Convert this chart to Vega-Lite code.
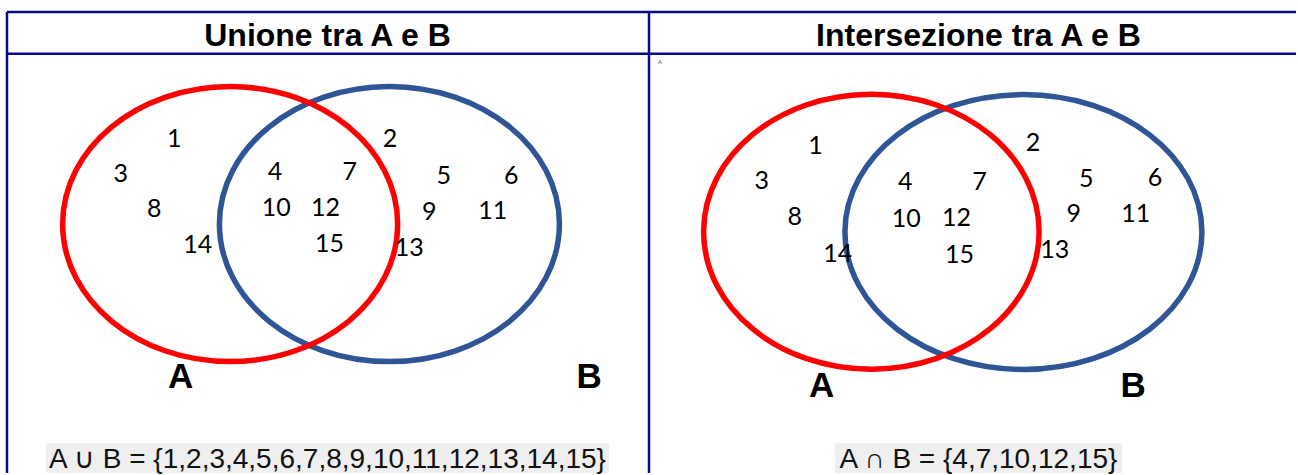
{
  "$schema": "https://vega.github.io/schema/vega-lite/v6.json",
  "width": 1298,
  "height": 475,
  "autosize": {"type": "fit", "contains": "padding"},
  "padding": 0,
  "background": "white",
  "config": {"view": {"stroke": null}},
  "datasets": {
    "lines": [
      {"x": 7, "y": 12, "x2": 1298, "y2": 12},
      {"x": 7, "y": 54, "x2": 1298, "y2": 54},
      {"x": 7, "y": 12, "x2": 7, "y2": 475},
      {"x": 650, "y": 12, "x2": 650, "y2": 475}
    ],
    "sets": [
      {"panel": "Unione", "set": "A", "x": 230.5, "y": 225},
      {"panel": "Unione", "set": "B", "x": 390, "y": 225},
      {"panel": "Intersezione", "set": "A", "x": 872.7, "y": 232.7},
      {"panel": "Intersezione", "set": "B", "x": 1025, "y": 233}
    ],
    "numbers": [
      {"panel": "Unione", "n": "1", "x": 174.6, "y": 136.7},
      {"panel": "Unione", "n": "3", "x": 121, "y": 171.7},
      {"panel": "Unione", "n": "8", "x": 154.5, "y": 206.7},
      {"panel": "Unione", "n": "14", "x": 198, "y": 242.7},
      {"panel": "Unione", "n": "4", "x": 275.3, "y": 169.3},
      {"panel": "Unione", "n": "7", "x": 350.4, "y": 169.3},
      {"panel": "Unione", "n": "10", "x": 276.8, "y": 206},
      {"panel": "Unione", "n": "12", "x": 326, "y": 206},
      {"panel": "Unione", "n": "15", "x": 330, "y": 241.7},
      {"panel": "Unione", "n": "2", "x": 390.6, "y": 137},
      {"panel": "Unione", "n": "5", "x": 444.5, "y": 174},
      {"panel": "Unione", "n": "6", "x": 512, "y": 174},
      {"panel": "Unione", "n": "9", "x": 430, "y": 210},
      {"panel": "Unione", "n": "11", "x": 493.5, "y": 209.3},
      {"panel": "Unione", "n": "13", "x": 410, "y": 246},
      {"panel": "Intersezione", "n": "1", "x": 816.7, "y": 143.3},
      {"panel": "Intersezione", "n": "2", "x": 1034.7, "y": 141},
      {"panel": "Intersezione", "n": "3", "x": 763, "y": 179},
      {"panel": "Intersezione", "n": "5", "x": 1088, "y": 176.7},
      {"panel": "Intersezione", "n": "6", "x": 1156.8, "y": 176},
      {"panel": "Intersezione", "n": "4", "x": 906.6, "y": 180},
      {"panel": "Intersezione", "n": "7", "x": 981, "y": 180},
      {"panel": "Intersezione", "n": "8", "x": 796, "y": 215},
      {"panel": "Intersezione", "n": "9", "x": 1075.5, "y": 211.7},
      {"panel": "Intersezione", "n": "10", "x": 907.7, "y": 216.7},
      {"panel": "Intersezione", "n": "12", "x": 957.9, "y": 216},
      {"panel": "Intersezione", "n": "11", "x": 1137.4, "y": 211.7},
      {"panel": "Intersezione", "n": "14", "x": 839, "y": 251.7},
      {"panel": "Intersezione", "n": "15", "x": 961, "y": 252.7},
      {"panel": "Intersezione", "n": "13", "x": 1056.5, "y": 248.3}
    ],
    "setLabels": [
      {"text": "A", "x": 181, "y": 379},
      {"text": "B", "x": 590, "y": 379},
      {"text": "A", "x": 823, "y": 388},
      {"text": "B", "x": 1135, "y": 388}
    ],
    "headers": [
      {"text": "Unione tra A e B", "x": 328, "y": 46},
      {"text": "Intersezione tra A e B", "x": 980, "y": 46}
    ],
    "boxes": [
      {"x": 46, "x2": 610, "y": 445, "y2": 475},
      {"x": 836, "x2": 1124, "y": 445, "y2": 475}
    ],
    "formulas": [
      {"text": "A ∪ B = {1,2,3,4,5,6,7,8,9,10,11,12,13,14,15}", "x": 328, "y": 470},
      {"text": "A ∩ B = {4,7,10,12,15}", "x": 980, "y": 470}
    ],
    "tiny": [
      {"text": "A", "x": 661, "y": 62}
    ]
  },
  "encoding": {
    "x": {"field": "x", "type": "quantitative", "scale": {"domain": [0, 1298], "nice": false, "zero": false}, "axis": null},
    "y": {"field": "y", "type": "quantitative", "scale": {"domain": [0, 475], "nice": false, "zero": false, "reverse": true}, "axis": null}
  },
  "layer": [
    {
      "data": {"name": "boxes"},
      "mark": {"type": "rect", "color": "#efefef"},
      "encoding": {
        "x2": {"field": "x2"},
        "y2": {"field": "y2"}
      }
    },
    {
      "data": {"name": "lines"},
      "mark": {"type": "rule", "color": "#0a0a8c", "strokeWidth": 2.5},
      "encoding": {
        "x2": {"field": "x2"},
        "y2": {"field": "y2"}
      }
    },
    {
      "data": {"name": "sets"},
      "transform": [{"filter": "datum.panel === 'Unione' && datum.set === 'B'"}],
      "mark": {"type": "point", "filled": false, "opacity": 1, "color": "#2f5597", "strokeWidth": 5.5, "size": 115600,
        "shape": "M1,0C1,0.4468,0.5523,0.809,0,0.809C-0.5523,0.809,-1,0.4468,-1,0C-1,-0.4468,-0.5523,-0.809,0,-0.809C0.5523,-0.809,1,-0.4468,1,0Z"}
    },
    {
      "data": {"name": "sets"},
      "transform": [{"filter": "datum.panel === 'Unione' && datum.set === 'A'"}],
      "mark": {"type": "point", "filled": false, "opacity": 1, "color": "#ff0000", "strokeWidth": 5.5, "size": 112225,
        "shape": "M1,0C1,0.4534,0.5523,0.821,0,0.821C-0.5523,0.821,-1,0.4534,-1,0C-1,-0.4534,-0.5523,-0.821,0,-0.821C0.5523,-0.821,1,-0.4534,1,0Z"}
    },
    {
      "data": {"name": "sets"},
      "transform": [{"filter": "datum.panel === 'Intersezione' && datum.set === 'B'"}],
      "mark": {"type": "point", "filled": false, "opacity": 1, "color": "#2f5597", "strokeWidth": 5.5, "size": 127449,
        "shape": "M1,0C1,0.4253,0.5523,0.77,0,0.77C-0.5523,0.77,-1,0.4253,-1,0C-1,-0.4253,-0.5523,-0.77,0,-0.77C0.5523,-0.77,1,-0.4253,1,0Z"}
    },
    {
      "data": {"name": "sets"},
      "transform": [{"filter": "datum.panel === 'Intersezione' && datum.set === 'A'"}],
      "mark": {"type": "point", "filled": false, "opacity": 1, "color": "#ff0000", "strokeWidth": 5.5, "size": 112560,
        "shape": "M1,0C1,0.4529,0.5523,0.82,0,0.82C-0.5523,0.82,-1,0.4529,-1,0C-1,-0.4529,-0.5523,-0.82,0,-0.82C0.5523,-0.82,1,-0.4529,1,0Z"}
    },
    {
      "data": {"name": "numbers"},
      "mark": {"type": "text", "font": "Lato", "fontSize": 25, "align": "center", "baseline": "middle", "dy": 3, "color": "#000000"},
      "encoding": {"text": {"field": "n"}}
    },
    {
      "data": {"name": "setLabels"},
      "mark": {"type": "text", "font": "Liberation Sans", "fontWeight": "bold", "fontSize": 35, "align": "center", "baseline": "middle", "color": "#000000"},
      "encoding": {"text": {"field": "text"}}
    },
    {
      "data": {"name": "headers"},
      "mark": {"type": "text", "font": "Liberation Sans", "fontWeight": "bold", "fontSize": 32, "align": "center", "baseline": "alphabetic", "color": "#000000"},
      "encoding": {"text": {"field": "text"}}
    },
    {
      "data": {"name": "formulas"},
      "mark": {"type": "text", "font": "Liberation Sans", "fontSize": 28, "align": "center", "baseline": "alphabetic", "color": "#111111"},
      "encoding": {"text": {"field": "text"}}
    },
    {
      "data": {"name": "tiny"},
      "mark": {"type": "text", "font": "Liberation Sans", "fontSize": 6, "align": "center", "baseline": "middle", "color": "#555555"},
      "encoding": {"text": {"field": "text"}}
    }
  ]
}
